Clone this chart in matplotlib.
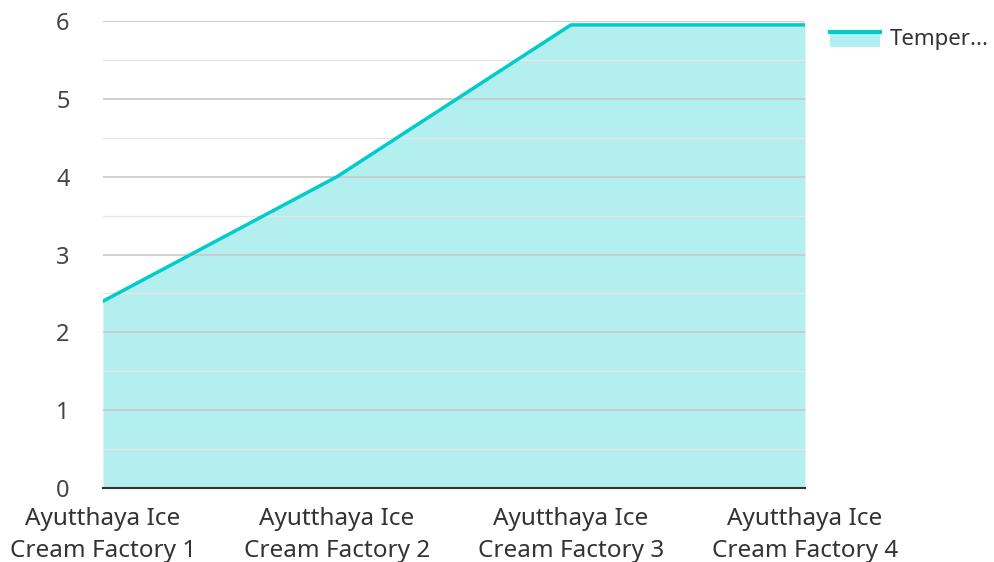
import numpy as np
import matplotlib.pyplot as plt
from matplotlib.patches import Rectangle
from matplotlib.lines import Line2D
from matplotlib.legend_handler import HandlerBase

plt.rcParams['font.family'] = ['Noto Sans', 'DejaVu Sans']

categories = ["Ayutthaya Ice\nCream Factory 1", "Ayutthaya Ice\nCream Factory 2",
              "Ayutthaya Ice\nCream Factory 3", "Ayutthaya Ice\nCream Factory 4"]
temperature = [2.4, 4.0, 5.95, 5.95]
series_label = "Temper..."

line_col = '#00cccc'
fill_col = '#b2efee'


class AreaHandler(HandlerBase):
    # filled box with the line along its top edge
    def create_artists(self, legend, orig, xd, yd, w, h, fs, trans):
        top = yd + h * 0.95
        bot = yd - h * 0.1
        r = Rectangle((xd, bot), w, top - bot, facecolor=fill_col,
                      edgecolor='none', transform=trans)
        ln = Line2D([xd, xd + w], [top, top], color=line_col, linewidth=3, transform=trans)
        return [r, ln]


fig = plt.figure(figsize=(9.95, 5.62), dpi=100)
ax = fig.add_axes([103 / 995, 1 - 488 / 562, (805 - 103) / 995, (488 - 21) / 562])

x = np.arange(len(categories))
ax.fill_between(x, 0, temperature, color=fill_col, linewidth=0, zorder=1)
ax.plot(x, temperature, color=line_col, linewidth=2.5, zorder=3)

ax.set_xlim(0, len(categories) - 1)
ax.set_ylim(0, 6)
ax.set_yticks(range(0, 7))
ax.set_yticks(np.arange(0.5, 6, 1), minor=True)
ax.grid(axis='y', which='major', color='#c8c8c8', linewidth=1.2, zorder=2)
ax.grid(axis='y', which='minor', color='#e6e6e6', linewidth=1.0, zorder=2)
ax.set_axisbelow(False)

ax.set_xticks(x)
ax.set_xticklabels(categories, fontsize=17.5, color='#333333', linespacing=1.45)
ax.tick_params(axis='y', which='both', length=0, labelsize=17, labelcolor='#444444', pad=24)
ax.tick_params(axis='x', length=0, pad=13.5)

for s in ['top', 'right', 'left']:
    ax.spines[s].set_visible(False)
ax.spines['bottom'].set_color('#333333')
ax.spines['bottom'].set_linewidth(1.5)
ax.spines['bottom'].set_zorder(4)

leg = fig.legend([object()], [series_label], handler_map={object: AreaHandler()},
                 loc='upper left', bbox_to_anchor=(830 / 995, 1 - 29 / 562),
                 frameon=False, fontsize=16, handlelength=2.25, handleheight=0.6,
                 handletextpad=0.45, borderpad=0, borderaxespad=0,
                 labelcolor='#333333')

fig.savefig('out.png', dpi=100)
